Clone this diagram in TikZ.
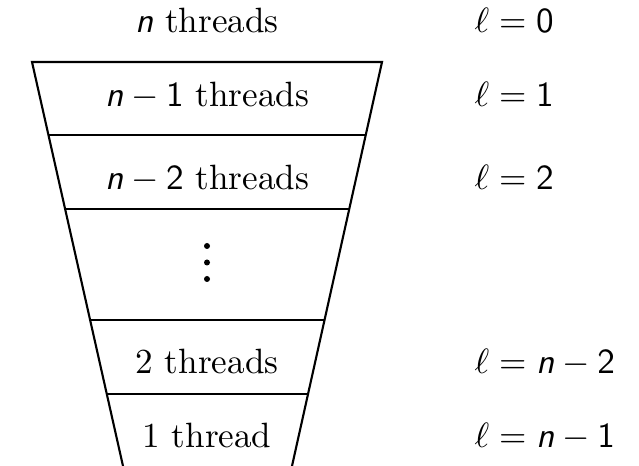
\documentclass[tikz,border=0pt]{standalone}
\usepackage{amsmath}
\usepackage{tikz}
\usetikzlibrary{calc}

% sans-serif n and digits, as in the figure
\newcommand{\sfn}{\text{\sffamily\itshape n}}
\newcommand{\sfd}[1]{\mathsf{#1}}

\begin{document}
\begin{tikzpicture}[
      rim/.style={semithick, black},
      count/.style={anchor=base, inner sep=0pt},
      level/.style={anchor=base west, inner sep=0pt},
      gap/.style={circle, fill=black, inner sep=0pt, minimum size=0.6mm}
    ]
    \useasboundingbox (0,0) rectangle (6.39,4.66);

    % Funnel corners
    \coordinate (tl) at (0.32,4.04);
    \coordinate (tr) at (3.82,4.04);
    \coordinate (bl) at (1.23,0);
    \coordinate (br) at (2.92,0);
    \draw[rim] (bl) -- (tl) -- (tr) -- (br);

    % Level separators
    \foreach \t in {0.1807, 0.3639, 0.6386, 0.8218}
      \draw[rim] ($(tl)!\t!(bl)$) -- ($(tr)!\t!(br)$);

    % Thread counts
    \node[count] (t0)  at (2.07,4.33) {$\sfn$ threads};
    \node[count] (t1)  at (2.07,3.59) {$\sfn - \sfd{1}$ threads};
    \node[count] (t2)  at (2.07,2.76) {$\sfn - \sfd{2}$ threads};
    \foreach \y [count=\i] in {2.20, 2.035, 1.87}
      \node[gap] (dot\i) at (2.07,\y) {};
    \node[count] (tn2) at (2.07,0.92) {2 threads};
    \node[count] (tn1) at (2.07,0.18) {1 thread};

    % Level labels
    \node[level] (l0)  at (4.74,4.33) {$\ell=\sfd{0}$};
    \node[level] (l1)  at (4.74,3.59) {$\ell=\sfd{1}$};
    \node[level] (l2)  at (4.74,2.76) {$\ell=\sfd{2}$};
    \node[level] (ln2) at (4.74,0.92) {$\ell=\sfn-\sfd{2}$};
    \node[level] (ln1) at (4.74,0.18) {$\ell=\sfn-\sfd{1}$};

  \end{tikzpicture}
\end{document}
